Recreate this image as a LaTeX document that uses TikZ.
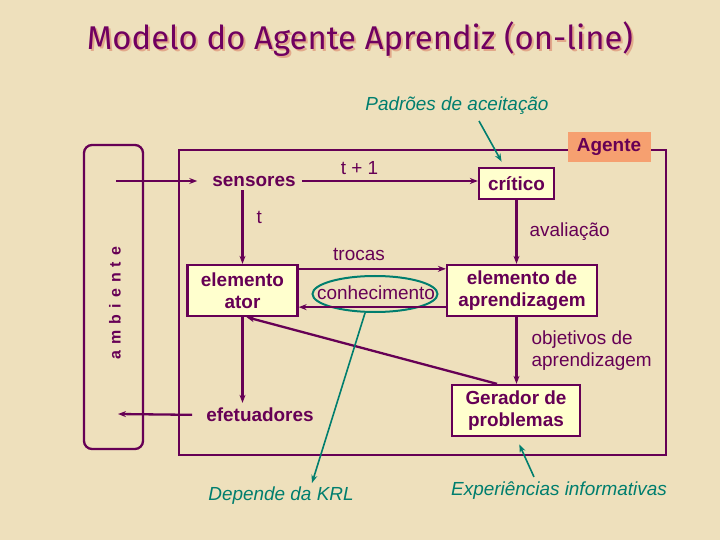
\documentclass[tikz,border=0pt]{standalone}
\usepackage{fontspec}
\setmainfont{Liberation Sans}
\newfontfamily\titlefont{Fira Sans}
\newfontfamily\spacedfont{Liberation Sans}[LetterSpace=38]
\usetikzlibrary{positioning,arrows.meta,calc,shapes.geometric}
\definecolor{PaperBg}{RGB}{238,224,188}
\definecolor{AgentPurple}{RGB}{102,0,85}
\definecolor{TitlePurple}{RGB}{112,0,96}
\definecolor{TitleShadow}{RGB}{226,168,138}
\definecolor{BoxFill}{RGB}{255,255,206}
\definecolor{NoteTeal}{RGB}{0,126,110}
\definecolor{AgenteFill}{RGB}{246,160,112}
\newcommand{\shadowtitle}[1]{\rlap{\textcolor{TitleShadow}{\kern2bp\raisebox{-2bp}{#1}}}#1}

\begin{document}
\begin{tikzpicture}[x=1bp,y=-1bp, every node/.style={font=\fontsize{19}{22}\selectfont,
    text=AgentPurple, align=center, inner sep=0pt},
  box/.style={draw=AgentPurple, line width=2.3bp, fill=BoxFill,
    font=\bfseries\fontsize{19}{22}\selectfont},
  part/.style={font=\bfseries\fontsize{19}{22}\selectfont},
  flow/.style={-{Stealth[length=8bp,width=6bp]}, line width=2.3bp, AgentPurple},
  note/.style={-{Stealth[length=8bp,width=6bp]}, line width=1.6bp, NoteTeal},
  notetext/.style={text=NoteTeal, font=\itshape\fontsize{19}{22}\selectfont}]
  \fill[PaperBg] (0,0) rectangle (720,540);
  % title with its shadow
  \node[text=TitlePurple, font=\titlefont\fontsize{33}{36}\selectfont] (title) at (360,40)
    {\shadowtitle{Modelo do Agente Aprendiz (on-line)}};
  % environment and agent frames
  \node[draw=AgentPurple, line width=2.3bp, rounded corners=8bp, minimum width=304bp,
        minimum height=59bp, rotate=90] (amb) at (113.5,297) {};
  \node[font=\spacedfont\bfseries\fontsize{16}{18}\selectfont, rotate=90] (ambtxt) at (115,303)
    {ambiente};
  \node[draw=AgentPurple, line width=2.3bp, minimum width=487bp, minimum height=305bp]
    (agent) at (422.5,302.5) {};
  \node[fill=AgenteFill, font=\bfseries\fontsize{19}{22}\selectfont, minimum width=83bp,
        minimum height=30bp] (agente) at (609,147) {Agente};
  \coordinate (ambin) at (116,181);
  \coordinate (ambout) at (118,414);
  % components
  \node[part] (sensores) at (254,181) {sensores};
  \node[box, minimum width=75bp, minimum height=31bp] (critico) at (516.5,183.5) {crítico};
  \node[box, minimum width=110bp, minimum height=51bp] (ator) at (242.5,290.5) {elemento\\ator};
  \node[box, minimum width=150bp, minimum height=51bp] (aprend) at (522,290.5)
    {elemento de\\aprendizagem};
  \node[box, minimum width=128bp, minimum height=51bp] (gerador) at (516,410.5)
    {Gerador de\\problemas};
  \node[part] (efet) at (260,415) {efetuadores};
  \node[draw=NoteTeal, line width=2bp, ellipse, minimum width=125bp, minimum height=36bp]
    (conhec) at (375,294) {};
  \node (conhecl) at (376,293) {conhecimento};
  % connectors
  \draw[flow, shorten >=15bp] (ambin) -- (sensores.west);
  \draw[flow, shorten <=6bp] (sensores.east) -- (sensores.east -| critico.west)
    node[pos=0.35, above=5bp] {t + 1};
  \draw[flow, shorten <=4bp] (sensores.south -| ator.north) -- (ator.north)
    node[pos=0.4, right=13bp] {t};
  \draw[flow] (critico.south) -- (critico.south |- aprend.north)
    node[midway, right=12bp] {avaliação};
  \draw[flow] ([yshift=-5bp]ator.north east) -- ([yshift=-5bp]aprend.north west)
    node[pos=0.41, above=7bp] {trocas};
  \draw[flow] ([yshift=10bp]aprend.south west) -- ([yshift=10bp]ator.south east);
  \draw[flow] (aprend.south -| critico.south) -- (critico.south |- gerador.north)
    node[midway, right=14bp, align=left] {objetivos de\\aprendizagem};
  \draw[flow] ([xshift=-19bp]gerador.north) -- ([xshift=4bp]ator.south);
  \draw[flow, shorten >=5bp] (ator.south) -- (ator.south |- efet.north);
  \draw[flow, shorten <=14bp] (efet.west) -- (ambout);
  % notes
  \node[notetext] (padroes) at (457,106) {Padrões de aceitação};
  \draw[note, shorten >=6bp] ([xshift=22bp,yshift=-6bp]padroes.south)
    -- ([xshift=-12bp]critico.north);
  \node[notetext] (krl) at (281,496) {Depende da KRL};
  \draw[note] ([xshift=-10bp]conhec.south) -- ([xshift=31bp,yshift=4bp]krl.north);
  \node[notetext] (exper) at (559,491) {Experiências informativas};
  \draw[note, shorten >=8bp] ([xshift=-25bp,yshift=5bp]exper.north) -- (gerador.south);
\end{tikzpicture}
\end{document}
